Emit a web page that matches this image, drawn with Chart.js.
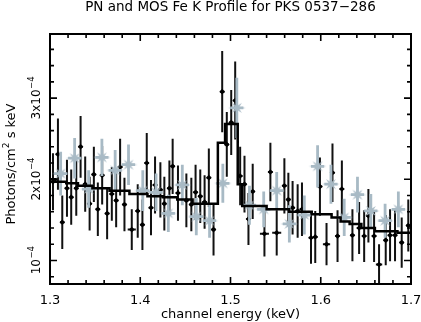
<!DOCTYPE html>
<html>
<head>
<meta charset="utf-8">
<script src="https://cdn.jsdelivr.net/npm/chart.js@4/dist/chart.umd.min.js"></script>
<style>
  html, body { margin: 0; padding: 0; background: #fff; }
  #wrap { width: 421px; height: 322px; }
</style>
</head>
<body>
<div id="wrap"><canvas id="profile" width="421" height="322"></canvas></div>
<script>
// fluxes are in units of 1e-4 photons/cm^2/s/keV
const pnEnergy = [1.3033, 1.3088, 1.3136, 1.3188, 1.3235, 1.3291, 1.3339, 1.3390, 1.3439, 1.3486,
                  1.3530, 1.3578, 1.3633, 1.3685, 1.3733, 1.3777, 1.3825, 1.3906, 1.3972, 1.4024,
                  1.4072, 1.4119, 1.4164, 1.4223, 1.4267, 1.4323, 1.4359, 1.4418, 1.4511, 1.4566,
                  1.4613, 1.4665, 1.4713, 1.4760, 1.4812, 1.4908, 1.4959, 1.5008, 1.5052, 1.5107,
                  1.5155, 1.5199, 1.5246, 1.5376, 1.5442, 1.5512, 1.5597, 1.5641, 1.5688, 1.5744,
                  1.5792, 1.5892, 1.5939, 1.5991, 1.6064, 1.6130, 1.6186, 1.6234, 1.6351, 1.6425,
                  1.6481, 1.6528, 1.6591, 1.6646, 1.6720, 1.6768, 1.6823, 1.6897, 1.6970];
const pnFlux = [1.97, 2.31, 1.47, 1.89, 1.78, 1.89, 2.40, 1.94, 1.70, 2.06,
                1.63, 2.05, 1.58, 1.82, 1.74, 2.15, 1.69, 1.38, 1.61, 1.44,
                2.20, 1.65, 1.93, 1.87, 1.70, 1.89, 2.16, 1.83, 1.74, 1.69,
                1.84, 1.79, 1.72, 2.02, 1.38, 3.08, 2.43, 2.70, 2.97, 2.04,
                1.94, 1.51, 1.85, 1.33, 2.09, 1.34, 1.92, 1.75, 1.65, 1.61,
                1.63, 1.28, 1.29, 1.91, 1.20, 2.08, 1.30, 1.88, 1.31, 1.40,
                1.30, 1.55, 1.30, 0.95, 1.25, 1.31, 1.31, 1.22, 1.43];
const pnErr = [0.35, 0.44, 0.33, 0.35, 0.34, 0.34, 0.38, 0.34, 0.33, 0.34,
               0.33, 0.36, 0.32, 0.33, 0.33, 0.35, 0.33, 0.25, 0.33, 0.31,
               0.37, 0.34, 0.35, 0.34, 0.33, 0.34, 0.34, 0.34, 0.33, 0.33,
               0.34, 0.33, 0.33, 0.36, 0.32, 0.50, 0.40, 0.40, 0.48, 0.36,
               0.35, 0.32, 0.34, 0.28, 0.36, 0.28, 0.34, 0.33, 0.33, 0.33,
               0.33, 0.32, 0.32, 0.36, 0.26, 0.36, 0.32, 0.35, 0.32, 0.32,
               0.32, 0.33, 0.32, 0.25, 0.31, 0.32, 0.32, 0.31, 0.32];
const pnHalfBin = [0.0025, 0.0025, 0.0025, 0.0025, 0.0025, 0.0025, 0.0025, 0.0025, 0.0025, 0.0025,
                   0.0025, 0.0025, 0.0025, 0.0025, 0.0025, 0.0025, 0.0025, 0.0045, 0.0025, 0.0025,
                   0.0025, 0.0025, 0.0025, 0.0025, 0.0025, 0.0025, 0.0025, 0.0025, 0.0025, 0.0025,
                   0.0025, 0.0025, 0.0025, 0.0025, 0.0025, 0.0025, 0.0025, 0.0025, 0.0025, 0.0025,
                   0.0025, 0.0025, 0.0025, 0.0050, 0.0025, 0.0050, 0.0025, 0.0025, 0.0025, 0.0025,
                   0.0025, 0.0025, 0.0025, 0.0025, 0.0040, 0.0025, 0.0025, 0.0025, 0.0025, 0.0025,
                   0.0025, 0.0025, 0.0025, 0.0035, 0.0025, 0.0025, 0.0025, 0.0025, 0.0025];

const mosEnergy = [1.3118, 1.3273, 1.3428, 1.3575, 1.3722, 1.3870, 1.4028, 1.4175, 1.4311, 1.4466,
                   1.4621, 1.4768, 1.4915, 1.5070, 1.5210, 1.5368, 1.5512, 1.5652, 1.5818, 1.5965,
                   1.6113, 1.6260, 1.6407, 1.6555, 1.6713, 1.6860];
const mosFlux = [2.07, 2.26, 1.88, 2.27, 2.11, 2.18, 1.86, 1.84, 1.58, 1.93,
                 1.54, 1.49, 1.95, 2.88, 1.68, 1.63, 1.86, 1.45, 1.56, 2.16,
                 1.94, 1.53, 1.81, 1.61, 1.49, 1.63];
const mosErr = [0.27, 0.25, 0.23, 0.23, 0.25, 0.25, 0.25, 0.23, 0.23, 0.25,
                0.23, 0.21, 0.24, 0.37, 0.24, 0.22, 0.23, 0.23, 0.24, 0.26,
                0.24, 0.23, 0.22, 0.21, 0.21, 0.22];
const mosHalfBin = 0.0073;

// model: left edge of each step and its level
const modelEdges = [1.300, 1.306, 1.318, 1.331, 1.347, 1.366, 1.388, 1.408, 1.425, 1.441,
                    1.458, 1.486, 1.494, 1.508, 1.513, 1.540, 1.565, 1.590, 1.612, 1.622,
                    1.632, 1.645, 1.660, 1.685, 1.700];
const modelFlux = [2.00, 1.97, 1.95, 1.92, 1.89, 1.86, 1.82, 1.79, 1.78, 1.75,
                   1.70, 2.45, 2.68, 1.94, 1.67, 1.63, 1.60, 1.57, 1.53, 1.48,
                   1.45, 1.40, 1.36, 1.34, 1.34];

const xTicks = [1.3, 1.4, 1.5, 1.6, 1.7];
const xTickLabels = ['1.3', '1.4', '1.5', '1.6', '1.7'];
const yTicks = [1, 2, 3];
const yTickLabels = [['', '10', '\u22124'], ['2x', '10', '\u22124'], ['3x', '10', '\u22124']];

const FONT = '"DejaVu Sans", sans-serif';
const MOS_COLOR = '#a8bac5';

// filled sparkle used for the MOS points
function starImage(color) {
    const c = document.createElement('canvas');
    c.width = 20; c.height = 20;
    const g = c.getContext('2d');
    g.fillStyle = color;
    g.beginPath();
    for (let i = 0; i < 16; i++) {
        const ang = i * Math.PI / 8 - Math.PI / 2;
        const r = i % 2 ? 2.6 : (i % 4 === 0 ? 9 : 7);
        g.lineTo(10 + r * Math.cos(ang), 10 + r * Math.sin(ang));
    }
    g.closePath();
    g.fill();
    return c;
}

// ─── error bars drawn underneath each dataset's markers ───────────────────
const errorBars = {
    id: 'errorBars',
    beforeDatasetDraw(chart, args) {
        const ds = chart.data.datasets[args.index];
        if (!ds.errY) return;
        const { ctx } = chart;
        const x = chart.scales.x, y = chart.scales.y;
        ctx.save();
        ctx.strokeStyle = ds.barColor;
        ctx.lineWidth = ds.barWidth;
        ctx.lineCap = 'butt';
        ds.data.forEach(function (p, i) {
            const hx = Array.isArray(ds.errX) ? ds.errX[i] : ds.errX;
            const px = x.getPixelForValue(p.x);
            const py = y.getPixelForValue(p.y);
            ctx.beginPath();
            ctx.moveTo(px, y.getPixelForValue(p.y - ds.errY[i]));
            ctx.lineTo(px, y.getPixelForValue(p.y + ds.errY[i]));
            ctx.moveTo(x.getPixelForValue(p.x - hx), py);
            ctx.lineTo(x.getPixelForValue(p.x + hx), py);
            ctx.stroke();
        });
        ctx.restore();
    }
};

// ─── box frame with ticks on all four sides, plus all labels ──────────────
const frame = {
    id: 'frame',
    afterDraw(chart) {
        const { ctx, chartArea: a } = chart;
        const x = chart.scales.x, y = chart.scales.y;
        ctx.save();
        ctx.strokeStyle = '#000';
        ctx.lineWidth = 2;
        ctx.strokeRect(a.left, a.top, a.right - a.left, a.bottom - a.top);

        ctx.lineWidth = 1.6;
        ctx.beginPath();
        for (let i = 0; i <= 20; i++) {
            const v = 1.3 + i * 0.02;
            const px = x.getPixelForValue(v);
            const len = i % 5 === 0 ? 7 : 4;
            ctx.moveTo(px, a.bottom); ctx.lineTo(px, a.bottom - len);
            ctx.moveTo(px, a.top); ctx.lineTo(px, a.top + len);
        }
        for (let i = 4; i <= 18; i++) {
            const v = i * 0.2;
            const py = y.getPixelForValue(v);
            const len = i % 5 === 0 ? 7 : 4;
            ctx.moveTo(a.left, py); ctx.lineTo(a.left + len, py);
            ctx.moveTo(a.right, py); ctx.lineTo(a.right - len, py);
        }
        ctx.stroke();

        ctx.fillStyle = '#000';
        ctx.textBaseline = 'alphabetic';

        // title
        ctx.font = '13.5px ' + FONT;
        ctx.textAlign = 'center';
        ctx.fillText('PN and MOS Fe K Profile for PKS 0537\u2212286', (a.left + a.right) / 2, 11);

        // x tick labels and title
        ctx.font = '13px ' + FONT;
        xTicks.forEach(function (v, i) {
            ctx.fillText(xTickLabels[i], x.getPixelForValue(v), 304);
        });
        ctx.fillText('channel energy (keV)', (a.left + a.right) / 2, 318);

        // y tick labels, rotated
        ctx.textAlign = 'left';
        yTicks.forEach(function (v, i) {
            const [pre, base, exp] = yTickLabels[i];
            ctx.save();
            ctx.translate(40, y.getPixelForValue(v));
            ctx.rotate(-Math.PI / 2);
            ctx.font = '12px ' + FONT;
            const w1 = ctx.measureText(pre + base).width;
            ctx.font = '8.5px ' + FONT;
            const w2 = ctx.measureText(exp).width;
            let sx = -(w1 + w2) / 2;
            ctx.font = '12px ' + FONT;
            ctx.fillText(pre + base, sx, 0);
            ctx.font = '8.5px ' + FONT;
            ctx.fillText(exp, sx + w1 + 0.5, -6);
            ctx.restore();
        });

        // y axis title
        ctx.save();
        ctx.translate(15, 164);
        ctx.rotate(-Math.PI / 2);
        ctx.font = '13px ' + FONT;
        const t1 = 'Photons/cm', t2 = '2', t3 = ' s keV';
        const w1 = ctx.measureText(t1).width, w3 = ctx.measureText(t3).width;
        ctx.font = '9px ' + FONT;
        const w2 = ctx.measureText(t2).width;
        let sx = -(w1 + w2 + w3) / 2;
        ctx.font = '13px ' + FONT;
        ctx.fillText(t1, sx, 0);
        ctx.fillText(t3, sx + w1 + w2, 0);
        ctx.font = '9px ' + FONT;
        ctx.fillText(t2, sx + w1, -6);
        ctx.restore();

        ctx.restore();
    }
};

const pnPoints = pnEnergy.map((e, i) => ({ x: e, y: pnFlux[i] }));
const mosPoints = mosEnergy.map((e, i) => ({ x: e, y: mosFlux[i] }));
const modelPoints = modelEdges.map((e, i) => ({ x: e, y: modelFlux[i] }));

new Chart(document.getElementById('profile'), {
    type: 'scatter',
    data: {
        datasets: [
            {
                label: 'model',
                data: modelPoints,
                showLine: true,
                stepped: 'before',
                borderColor: '#000',
                borderWidth: 2.5,
                pointRadius: 0,
                order: 0
            },
            {
                label: 'MOS',
                data: mosPoints,
                errY: mosErr,
                errX: mosHalfBin,
                barColor: MOS_COLOR,
                barWidth: 2.8,
                pointStyle: starImage(MOS_COLOR),
                pointRadius: 9,
                order: 1
            },
            {
                label: 'PN',
                data: pnPoints,
                errY: pnErr,
                errX: pnHalfBin,
                barColor: '#111',
                barWidth: 2,
                pointStyle: 'rectRot',
                pointRadius: 2.8,
                backgroundColor: '#000',
                borderColor: '#000',
                borderWidth: 0,
                order: 2
            }
        ]
    },
    options: {
        responsive: false,
        animation: false,
        devicePixelRatio: 1,
        layout: { padding: { left: 50, right: 10, top: 34, bottom: 38 } },
        plugins: { legend: { display: false }, tooltip: { enabled: false } },
        scales: {
            x: { type: 'linear', min: 1.3, max: 1.7, display: false },
            y: { type: 'linear', min: 0.71, max: 3.79, display: false }
        }
    },
    plugins: [errorBars, frame]
});
</script>
</body>
</html>
